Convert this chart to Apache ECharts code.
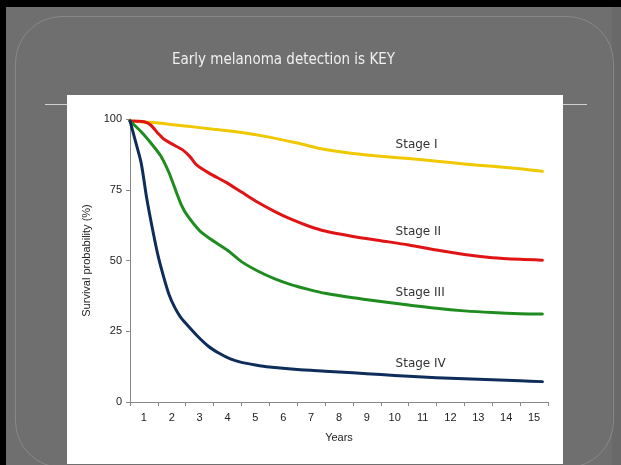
<!DOCTYPE html>
<html>
<head>
<meta charset="utf-8">
<script src="https://cdn.jsdelivr.net/npm/echarts@6/dist/echarts.min.js"></script>
<style>
  html, body { margin: 0; padding: 0; }
  body { width: 621px; height: 465px; overflow: hidden; background: #6f6f6f; position: relative; }
  .deco { position: absolute; }
  #topbar { left: 0; top: 0; width: 621px; height: 7px; background: #000; }
  #leftbar { left: 0; top: 0; width: 6px; height: 465px; background: #000; }
  #rightstrip { left: 612px; top: 7px; width: 9px; height: 458px; background: #696969; }
  #outline { left: 15px; top: 16px; width: 597px; height: 450px; border: 1px solid #888; border-radius: 47px; }
  #hline { left: 45px; top: 104px; width: 542px; height: 1px; background: #cfcfcf; }
  #whitebox { left: 67px; top: 95px; width: 496px; height: 369px; background: #fff; }
  #chart { position: absolute; left: 0; top: 0; width: 621px; height: 465px; }
</style>
</head>
<body>
<div class="deco" id="topbar"></div>
<div class="deco" id="leftbar"></div>
<div class="deco" id="rightstrip"></div>
<div class="deco" id="outline"></div>
<div class="deco" id="hline"></div>
<div class="deco" id="whitebox"></div>
<div id="chart"></div>
<script>
// ---- data ----
const titleText = 'Early melanoma detection is KEY';
const yAxisName = 'Survival probability (%)';
const xAxisName = 'Years';
const yearLabels = ['1','2','3','4','5','6','7','8','9','10','11','12','13','14','15'];

const stageNames = ['Stage I', 'Stage II', 'Stage III', 'Stage IV'];
const stageColors = ['#f0c800', '#e01414', '#1e8c1e', '#0f2d5a'];

const stage1T = [0, 1, 2, 3, 4, 5, 6, 7, 8, 9, 10, 11, 12, 13, 14, 14.8];
const stage1V = [99.3, 98.6, 97.5, 96.4, 95.2, 93.6, 91.5, 89.2, 87.8, 86.8, 86, 85.1, 84.1, 83.3, 82.4, 81.5];

const stage2T = [0, 0.5, 0.75, 1.0, 1.2, 1.5, 1.9, 2.15, 2.4, 2.85, 3.45, 4.0, 4.6, 5.2, 5.8, 6.4, 7, 8, 9, 10, 11, 12, 13, 14, 14.8];
const stage2V = [99.3, 99, 97.8, 95, 93, 91.2, 89, 86.7, 83.7, 80.8, 77.6, 74.2, 70.5, 67.3, 64.5, 62.2, 60.4, 58.5, 57, 55.5, 53.7, 52.1, 51, 50.4, 50.1];

const stage3T = [0, 0.4, 0.75, 1.1, 1.4, 1.65, 1.85, 2.05, 2.5, 2.9, 3.5, 4.0, 4.6, 5.2, 5.8, 6.4, 7, 8, 9, 10, 11, 12, 13, 14, 14.8];
const stage3V = [99.3, 95.5, 91.5, 87, 81, 74.5, 69.5, 66, 60.5, 57.5, 53.6, 49.6, 46.2, 43.5, 41.4, 39.8, 38.4, 36.8, 35.5, 34.3, 33.1, 32.2, 31.6, 31.2, 31.1];

const stage4T = [0, 0.2, 0.4, 0.6, 0.8, 1.0, 1.2, 1.4, 1.6, 1.8, 2.0, 2.4, 2.8, 3.2, 3.6, 4.0, 4.5, 5, 6, 7, 8, 9, 10, 11, 12, 13, 14, 14.8];
const stage4V = [99.3, 92, 84.5, 72, 61.5, 52, 44.5, 38, 33.5, 30.2, 27.8, 23.5, 19.8, 17.2, 15.2, 14, 13.1, 12.4, 11.5, 10.9, 10.3, 9.7, 9.1, 8.6, 8.2, 7.9, 7.5, 7.2];

// label anchor positions (in data units: years, %)
const labelT = [9.53, 9.53, 9.53, 9.53];
const labelV = [91.0, 60.0, 38.6, 13.3];

// ---- build ----
const allT = [stage1T, stage2T, stage3T, stage4T];
const allV = [stage1V, stage2V, stage3V, stage4V];

const font = '"Liberation Sans", Arial, sans-serif';

const series = stageNames.map((name, i) => ({
  name: name,
  type: 'line',
  xAxisIndex: 0,
  yAxisIndex: 0,
  data: allT[i].map((t, k) => [t, allV[i][k]]),
  showSymbol: false,
  smooth: 0.25,
  lineStyle: { color: stageColors[i], width: 3, join: 'round', cap: 'round' },
  itemStyle: { color: stageColors[i] },
  z: 3,
  markPoint: {
    symbol: 'circle',
    symbolSize: 0,
    silent: true,
    data: [{ coord: [labelT[i], labelV[i]], value: name }],
    label: {
      show: true,
      position: 'inside',
      align: 'left',
      verticalAlign: 'middle',
      formatter: name,
      color: '#333',
      fontSize: 12,
      fontFamily: '"DejaVu Sans", Verdana, sans-serif'
    }
  }
}));

const chart = echarts.init(document.getElementById('chart'), null, { renderer: 'canvas' });
chart.setOption({
  animation: false,
  backgroundColor: 'transparent',
  title: {
    text: titleText,
    left: 172,
    top: 53,
    padding: 0,
    textStyle: { color: '#f0f0f0', fontSize: 15, fontWeight: 'normal', fontFamily: '"DejaVu Sans Condensed", "Liberation Sans", sans-serif' }
  },
  grid: { left: 130, top: 119, width: 418, height: 283, containLabel: false },
  xAxis: [
    {
      type: 'value', min: 0, max: 15, interval: 1, position: 'bottom',
      axisLine: { show: true, lineStyle: { color: '#888', width: 1 } },
      axisTick: { show: true, length: 4, lineStyle: { color: '#888' } },
      axisLabel: { show: false },
      splitLine: { show: false }
    },
    {
      type: 'category', data: yearLabels, boundaryGap: true, position: 'bottom', offset: 0,
      axisLine: { show: false }, axisTick: { show: false },
      axisLabel: { show: true, margin: 10, color: '#222', fontSize: 11, fontFamily: font },
      splitLine: { show: false },
      name: xAxisName, nameLocation: 'middle', nameGap: 30,
      nameTextStyle: { color: '#222', fontSize: 11, fontFamily: font }
    }
  ],
  yAxis: [{
    type: 'value', min: 0, max: 100, interval: 25,
    axisLine: { show: true, lineStyle: { color: '#888', width: 1 } },
    axisTick: { show: true, length: 4, lineStyle: { color: '#888' } },
    axisLabel: { margin: 8, color: '#222', fontSize: 11, fontFamily: font },
    splitLine: { show: false },
    name: yAxisName, nameLocation: 'middle', nameGap: 38,
    nameTextStyle: { color: '#222', fontSize: 11, fontFamily: font }
  }],
  series: series
});
</script>
</body>
</html>
